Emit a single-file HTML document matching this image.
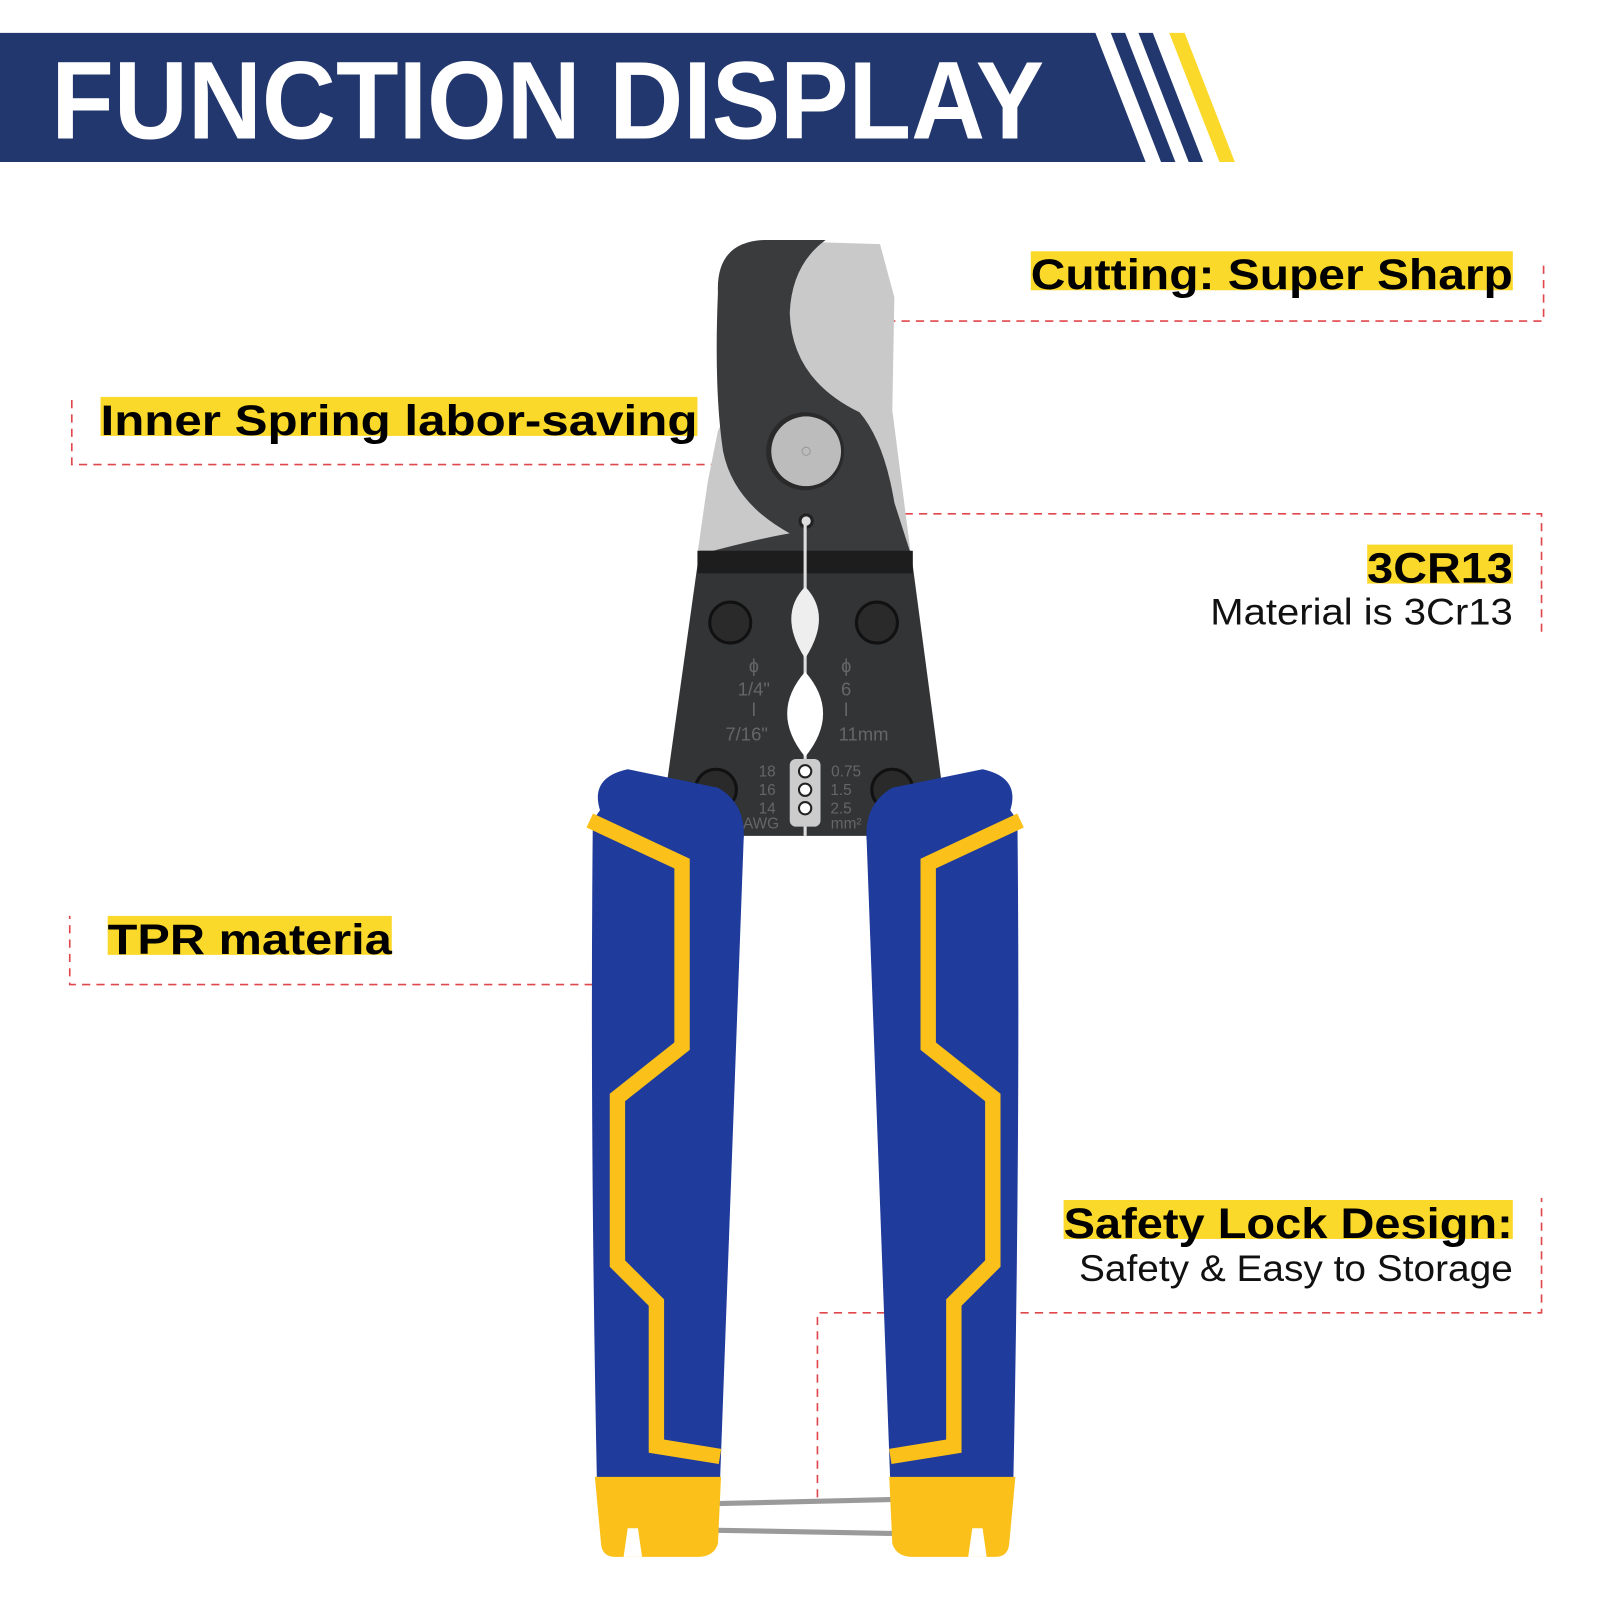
<!DOCTYPE html>
<html><head><meta charset="utf-8"><style>
html,body{margin:0;padding:0;background:#fff}
svg{display:block}
text{font-family:"Liberation Sans",sans-serif}
</style></head><body>
<svg width="1600" height="1600" viewBox="0 0 1560 1560" xmlns="http://www.w3.org/2000/svg">
<rect width="1560" height="1560" fill="#fff"/>
<!-- banner -->
<polygon points="0,32 1068,32 1117,158 0,158" fill="#22376e"/>
<polygon points="1083,32 1097,32 1146,158 1132,158" fill="#22376e"/>
<polygon points="1110,32 1124,32 1173,158 1159,158" fill="#22376e"/>
<polygon points="1140,32 1155,32 1204,158 1189,158" fill="#fbd92a"/>
<text x="50" y="135" font-size="108" font-weight="bold" fill="#fff" textLength="968" lengthAdjust="spacingAndGlyphs">FUNCTION DISPLAY</text>

<!-- dashed connectors -->
<g stroke="#e0474c" stroke-width="1.6" stroke-dasharray="8,6" fill="none">
<polyline points="795,313 1505,313 1505,255"/>
<polyline points="785,453 70,453 70,387"/>
<polyline points="840,501 1503,501 1503,618"/>
<polyline points="662,960 68,960 68,893"/>
<polyline points="797,1460 797,1280 1503,1280 1503,1168"/>
</g>

<!-- labels -->
<rect x="1005" y="245" width="470" height="38" fill="#fbd92a"/>
<text x="1005" y="282" font-size="42" font-weight="bold" fill="#000" textLength="470" lengthAdjust="spacingAndGlyphs">Cutting: Super Sharp</text>
<rect x="98" y="387" width="582" height="38" fill="#fbd92a"/>
<text x="98" y="424" font-size="42" font-weight="bold" fill="#000" textLength="582" lengthAdjust="spacingAndGlyphs">Inner Spring labor-saving</text>
<rect x="1333" y="531" width="142" height="38" fill="#fbd92a"/>
<text x="1333" y="568" font-size="42" font-weight="bold" fill="#000" textLength="142" lengthAdjust="spacingAndGlyphs">3CR13</text>
<text x="1180" y="609" font-size="36" fill="#111" textLength="295" lengthAdjust="spacingAndGlyphs">Material is 3Cr13</text>
<rect x="105" y="893" width="277" height="38" fill="#fbd92a"/>
<text x="105" y="930" font-size="42" font-weight="bold" fill="#000" textLength="277" lengthAdjust="spacingAndGlyphs">TPR materia</text>
<rect x="1037" y="1170" width="438" height="38" fill="#fbd92a"/>
<text x="1037" y="1207" font-size="42" font-weight="bold" fill="#000" textLength="438" lengthAdjust="spacingAndGlyphs">Safety Lock Design:</text>
<text x="1052" y="1249" font-size="36" fill="#111" textLength="423" lengthAdjust="spacingAndGlyphs">Safety &amp; Easy to Storage</text>

<!-- pliers -->
<polygon points="790,236 858,238 872,290 870,400 888,540 680,540 690,470 700,420" fill="#c9c9c9"/>
<path d="M700,285 Q698,236 745,234 L805,234 Q772,258 770,305 Q772,370 838,402 Q862,430 872,490 L888,540 L684,540 Q740,525 770,520 Q715,490 705,440 Q696,380 700,285 Z" fill="#3a3b3d"/>
<circle cx="785" cy="440" r="38" fill="#2a2a2a"/>
<circle cx="786" cy="440" r="34" fill="#bcbcbc"/>
<circle cx="786" cy="440" r="4" fill="none" stroke="#999"/>
<circle cx="786" cy="508" r="6" fill="#ddd" stroke="#222" stroke-width="3"/>
<polygon points="682,537 888,537 925,815 643,815" fill="#333436"/>
<rect x="680" y="537" width="210" height="22" fill="#1d1d1e"/>
<g fill="#2a2a2b" stroke="#111" stroke-width="3">
<circle cx="712" cy="607" r="20"/><circle cx="855" cy="607" r="20"/>
<circle cx="698" cy="770" r="20"/><circle cx="870" cy="770" r="20"/>
</g>
<g fill="#666" font-size="18" text-anchor="middle">
<text x="735" y="655">ɸ</text><text x="735" y="678">1/4"</text><text x="735" y="698">l</text><text x="728" y="722">7/16"</text>
<text x="825" y="655">ɸ</text><text x="825" y="678">6</text><text x="825" y="698">l</text><text x="842" y="722">11mm</text>
<g font-size="15"><text x="748" y="757">18</text><text x="748" y="775">16</text><text x="748" y="793">14</text><text x="742" y="808">AWG</text>
<text x="825" y="757">0.75</text><text x="820" y="775">1.5</text><text x="820" y="793">2.5</text><text x="825" y="808">mm²</text></g>
</g>
<line x1="785" y1="510" x2="785" y2="815" stroke="#ddd" stroke-width="3"/>
<path d="M785,572 Q812,600 785,642 Q758,600 785,572 Z" fill="#eee"/>
<path d="M785,655 Q820,695 785,738 Q750,695 785,655 Z" fill="#fff"/>
<rect x="770" y="740" width="30" height="66" rx="6" fill="#ccc"/>
<g fill="#fff" stroke="#222" stroke-width="2"><circle cx="785" cy="752" r="6"/><circle cx="785" cy="770" r="6"/><circle cx="785" cy="788" r="6"/></g>

<!-- lock wire -->
<g stroke="#9a9a9a" stroke-width="5" fill="none" stroke-linecap="round">
<line x1="700" y1="1466" x2="870" y2="1462"/>
<path d="M700,1466 Q670,1470 675,1485 Q680,1492 700,1492 L920,1496"/>
</g>

<g id="h">
<path d="M585,790 Q575,758 612,750 L700,768 Q728,784 725,820 L702,1445 L582,1445 Q575,1100 578,800 Z" fill="#1f3b9b"/>
<polyline points="575,800 665,842 665,1020 602,1070 602,1232 640,1270 640,1410 702,1420" fill="none" stroke="#fbc11a" stroke-width="15" stroke-linejoin="miter"/>
<path d="M580,1440 L703,1440 L700,1505 Q696,1518 680,1518 L600,1518 Q587,1518 586,1505 Z" fill="#fbc11a"/>
<path d="M608,1518 L612,1490 L622,1490 L626,1518 Z" fill="#fff"/>
</g>
<use href="#h" transform="translate(1570,0) scale(-1,1)"/>
</svg>
</body></html>
